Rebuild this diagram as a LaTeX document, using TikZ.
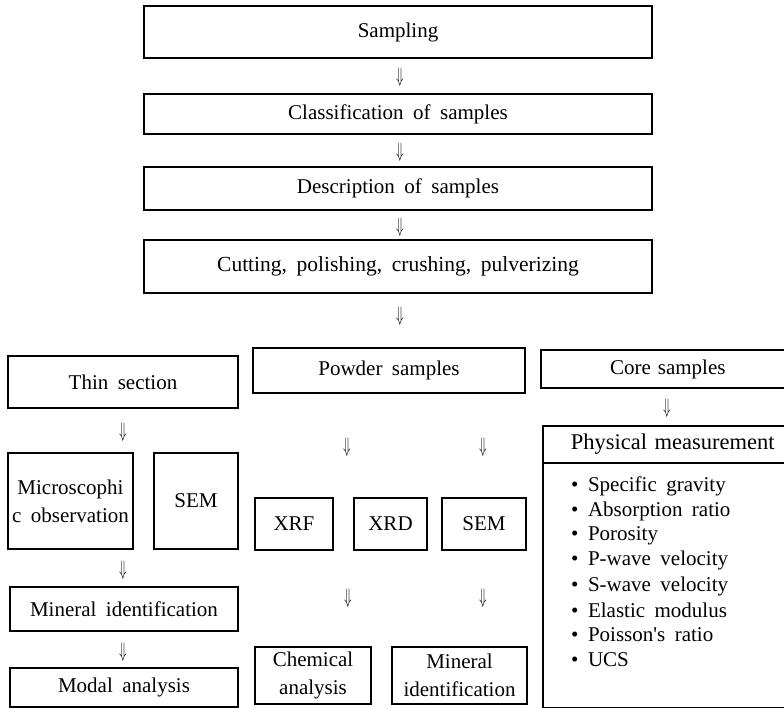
\documentclass[tikz,border=0pt]{standalone}
\usepackage{fontspec}
\setmainfont{Liberation Serif}[WordSpace=1.8]
\begin{document}
\begin{tikzpicture}[x=1pt,y=-1pt,
  every node/.style={font=\fontsize{21}{28}\selectfont},
  box/.style={draw, line width=1.6pt, inner sep=0pt, align=center},
  dn/.style={inner sep=0pt, font=\fontsize{21}{21}\selectfont},
  item/.style={anchor=west, inner sep=0pt}]
\clip (0,0) rectangle (784,708);
\newcommand{\dar}{\scalebox{0.6}[1]{$\Downarrow$}}
% main column
\node[box, minimum width=508, minimum height=52] (sampling) at (398,32) {Sampling};
\node[box, minimum width=508, minimum height=40] (classif) at (398,114) {Classification of samples};
\node[box, minimum width=508, minimum height=43] (descr) at (398,188.5) {Description of samples};
\node[box, minimum width=508, minimum height=53, font=\fontsize{21.5}{28}\selectfont] (cutting) at (398,266.5) {Cutting, polishing, crushing, pulverizing};
\node[dn] (a1) at (400,77) {\dar};
\node[dn] (a2) at (400,152) {\dar};
\node[dn] (a3) at (400,227) {\dar};
\node[dn] (a4) at (400,316) {\dar};
% branches
\node[box, minimum width=230, minimum height=52] (thin) at (123,382) {Thin section};
\node[box, minimum width=272, minimum height=45] (powder) at (389,370.5) {Powder samples};
\node[box, anchor=west, minimum height=38, text width=180pt, inner xsep=40pt, align=center] (core) at (540,369) {\hspace*{-6pt}Core samples};
\node[dn] (a8) at (667,408) {\dar};
\node[box, anchor=north west, minimum height=37, text width=212pt, inner xsep=28pt, align=left, font=\fontsize{22.5}{28}\selectfont] (physhead) at (542,425) {Physical measurement};
\node[box, anchor=north west, minimum height=245, minimum width=268] (physbody) at (542,462) {};
\node[item] (p1) at (571,486) {• Specific gravity};
\node[item] (p2) at (571,511) {• Absorption ratio};
\node[item] (p3) at (571,535.5) {• Porosity};
\node[item] (p4) at (571,560) {• P-wave velocity};
\node[item] (p5) at (571,586) {• S-wave velocity};
\node[item] (p6) at (571,610) {• Elastic modulus};
\node[item] (p7) at (571,635) {• Poisson\textquotesingle s ratio};
\node[item] (p8) at (571,660) {• UCS};
% thin section column
\node[dn] (a5) at (123,432) {\dar};
\node[box, minimum width=125, minimum height=96] (micro) at (70.5,501) {Microscophi\\c observation};
\node[box, minimum width=84, minimum height=96] (sem1) at (196,501) {SEM};
\node[dn] (a9) at (123,570) {\dar};
\node[box, minimum width=228, minimum height=44] (mineral1) at (124,609) {Mineral identification};
\node[dn] (a12) at (123,652) {\dar};
\node[box, minimum width=228, minimum height=39] (modal) at (124,687.5) {Modal analysis};
% powder column
\node[dn] (a6) at (347,447) {\dar};
\node[dn] (a7) at (483,447) {\dar};
\node[box, minimum width=78, minimum height=52] (xrf) at (294,524) {XRF};
\node[box, minimum width=73, minimum height=52] (xrd) at (390.5,524) {XRD};
\node[box, minimum width=84, minimum height=52] (sem2) at (484,524) {SEM};
\node[dn] (a10) at (348,598) {\dar};
\node[dn] (a11) at (483,598) {\dar};
\node[box, minimum width=116, minimum height=57] (chem) at (313,675.5) {Chemical\\analysis};
\node[box, minimum width=135, minimum height=57] (mineral2) at (459.5,675.5) {Mineral\\identification};
\end{tikzpicture}
\end{document}
